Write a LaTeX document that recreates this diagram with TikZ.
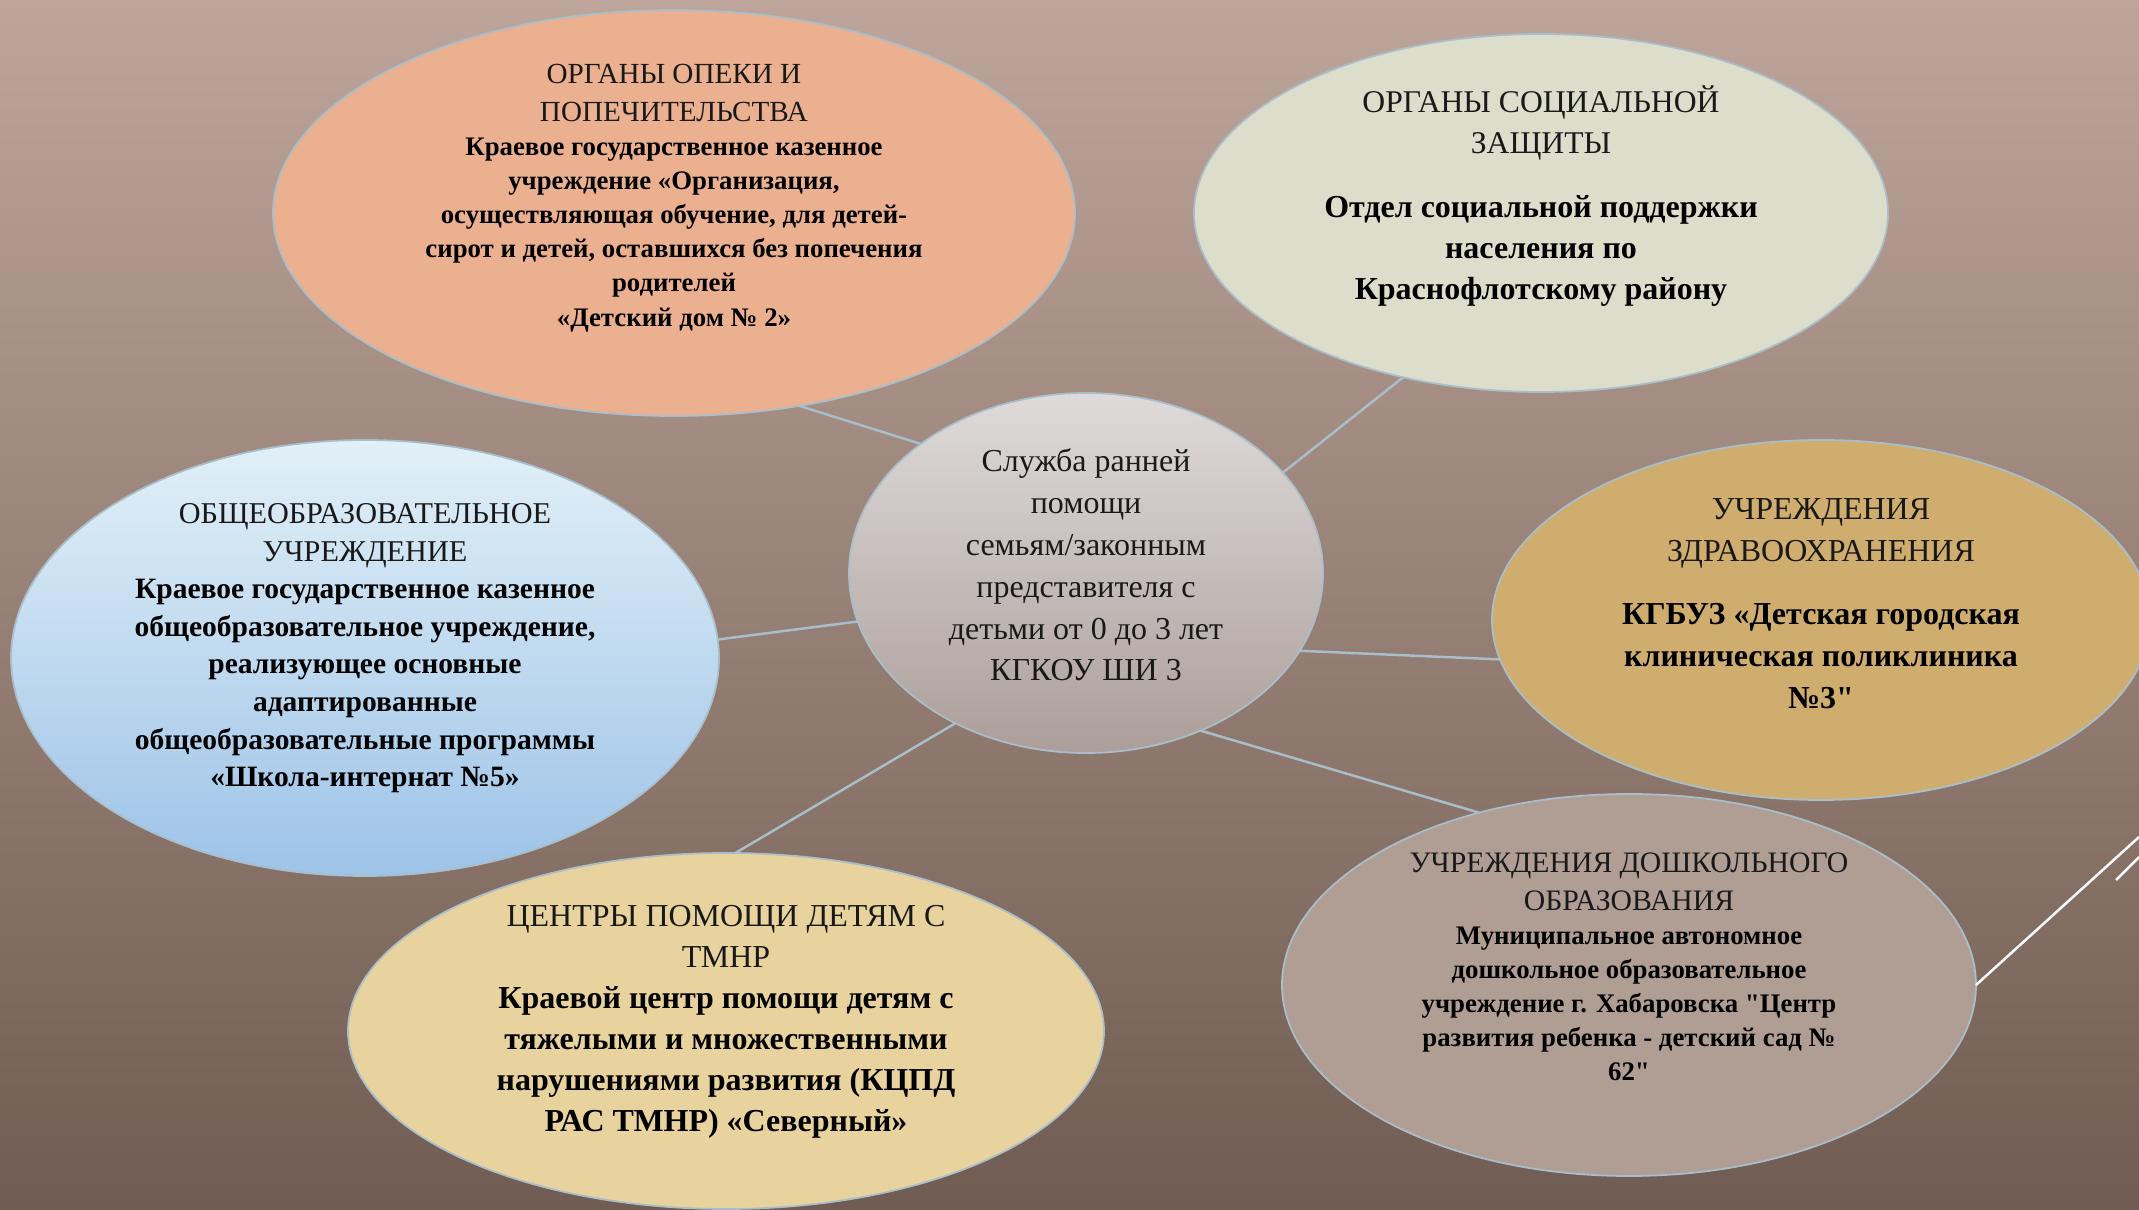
\documentclass[tikz,border=0pt]{standalone}
\usepackage{fontspec}
\setmainfont{Liberation Serif}[Ligatures=TeXOff]
\usepackage{tikz}
\usetikzlibrary{shapes.geometric,positioning}
\setlength{\parindent}{0pt}

\definecolor{bgtop}{RGB}{190,165,155}
\definecolor{bgbot}{RGB}{112,92,82}
\definecolor{edge}{RGB}{168,190,202}
\definecolor{opekafill}{RGB}{235,176,143}
\definecolor{socfill}{RGB}{220,221,203}
\definecolor{centop}{RGB}{222,219,218}
\definecolor{cenbot}{RGB}{172,158,154}
\definecolor{schtop}{RGB}{226,240,247}
\definecolor{schbot}{RGB}{157,195,232}
\definecolor{medfill}{RGB}{207,173,111}
\definecolor{tmnrfill}{RGB}{232,210,157}
\definecolor{prefill}{RGB}{176,158,148}
\definecolor{headtext}{RGB}{25,25,25}

\begin{document}
\begin{tikzpicture}[
    bub/.style={ellipse, draw=edge, line width=0.5pt, inner sep=0pt, outer sep=0pt},
    txt/.style={text width=6.6cm, align=flush center, inner sep=0pt, text=black},
    link/.style={draw=edge, line width=0.7pt},
    deco/.style={draw=white, line width=0.7pt}
]
    \useasboundingbox (0,0) rectangle (21.39,12.09);
    \shade[top color=bgtop, bottom color=bgbot] (0,0) rectangle (21.39,12.09);
    \clip (0,0) rectangle (21.39,12.09);

    % ellipses
    \node[bub, fill=opekafill, minimum width=8.02cm, minimum height=4.06cm] (op) at (6.74,9.96) {};
    \node[bub, fill=socfill, minimum width=6.94cm, minimum height=3.58cm] (soc) at (15.41,9.96) {};
    \node[bub, top color=centop, bottom color=cenbot, minimum width=4.74cm, minimum height=3.60cm] (cen) at (10.86,6.36) {};
    \node[bub, top color=schtop, bottom color=schbot, minimum width=7.08cm, minimum height=4.36cm] (sch) at (3.65,5.51) {};
    \node[bub, fill=medfill, minimum width=6.58cm, minimum height=3.60cm] (med) at (18.21,5.89) {};
    \node[bub, fill=tmnrfill, minimum width=7.56cm, minimum height=3.56cm] (tmnr) at (7.26,1.78) {};
    \node[bub, fill=prefill, minimum width=6.94cm, minimum height=3.82cm] (pre) at (16.29,2.24) {};

    % links to the centre
    \draw[link] (op.-57) -- (cen.142);
    \draw[link] (soc.-130) -- (cen.27);
    \draw[link] (sch.3) -- (cen.192);
    \draw[link] (med.187) -- (cen.-20);
    \draw[link] (tmnr.87) -- (cen.229);
    \draw[link] (pre.131) -- (cen.-54);

    % texts
    \node[txt] (opT) at ([yshift=0.15cm]op.center) {%
        {\color{headtext}\fontsize{8.3}{10.8}\selectfont ОРГАНЫ ОПЕКИ И\\ПОПЕЧИТЕЛЬСТВА\par}
        {\bfseries\fontsize{7.62}{9.7}\selectfont Краевое государственное казенное\\учреждение «Организация,\\осуществляющая обучение, для детей-\\сирот и детей, оставшихся без попечения\\родителей\\«Детский дом № 2»\par}};
    \node[txt] (socT) at ([yshift=0.17cm]soc.center) {%
        {\color{headtext}\fontsize{9}{11.7}\selectfont ОРГАНЫ СОЦИАЛЬНОЙ\\ЗАЩИТЫ\par}
        \vspace{6.5pt}
        {\bfseries\fontsize{9.1}{11.7}\selectfont Отдел социальной поддержки\\населения по\\Краснофлотскому району\par}};
    \node[txt] (cenT) at ([yshift=0.08cm]cen.center) {%
        {\color{headtext}\fontsize{9.1}{11.9}\selectfont Служба ранней\\помощи\\семьям/законным\\представителя с\\детьми от 0 до 3 лет\\КГКОУ ШИ 3\par}};
    \node[txt] (schT) at ([yshift=0.10cm]sch.center) {%
        {\color{headtext}\fontsize{8.6}{10.8}\selectfont ОБЩЕОБРАЗОВАТЕЛЬНОЕ\\УЧРЕЖДЕНИЕ\par}
        {\bfseries\fontsize{8.4}{10.7}\selectfont Краевое государственное казенное\\общеобразовательное учреждение,\\реализующее основные\\адаптированные\\общеобразовательные программы\\«Школа-интернат №5»\par}};
    \node[txt] (medT) at ([yshift=0.16cm]med.center) {%
        {\color{headtext}\fontsize{9.1}{12}\selectfont УЧРЕЖДЕНИЯ\\ЗДРАВООХРАНЕНИЯ\par}
        \vspace{5.8pt}
        {\bfseries\fontsize{9.1}{12}\selectfont КГБУЗ «Детская городская\\клиническая поликлиника\\№3"\par}};
    \node[txt] (tmnrT) at ([yshift=0.09cm]tmnr.center) {%
        {\color{headtext}\fontsize{9.1}{11.7}\selectfont ЦЕНТРЫ ПОМОЩИ ДЕТЯМ С\\ТМНР\par}
        {\bfseries\fontsize{9.1}{11.7}\selectfont Краевой центр помощи детям с\\тяжелыми и множественными\\нарушениями развития (КЦПД\\РАС ТМНР) «Северный»\par}};
    \node[txt] (preT) at ([yshift=0.18cm]pre.center) {%
        {\color{headtext}\fontsize{8.45}{10.8}\selectfont УЧРЕЖДЕНИЯ ДОШКОЛЬНОГО\\ОБРАЗОВАНИЯ\par}
        {\bfseries\fontsize{7.62}{9.7}\selectfont Муниципальное автономное\\дошкольное образовательное\\учреждение г. Хабаровска "Центр\\развития ребенка - детский сад №\\62"\par}};

    % white strokes at the right edge
    \coordinate (w1) at (21.39,3.72);
    \draw[deco] (pre.east) -- (w1);
    \draw[deco] (21.16,3.29) -- (21.39,3.52);
\end{tikzpicture}
\end{document}
